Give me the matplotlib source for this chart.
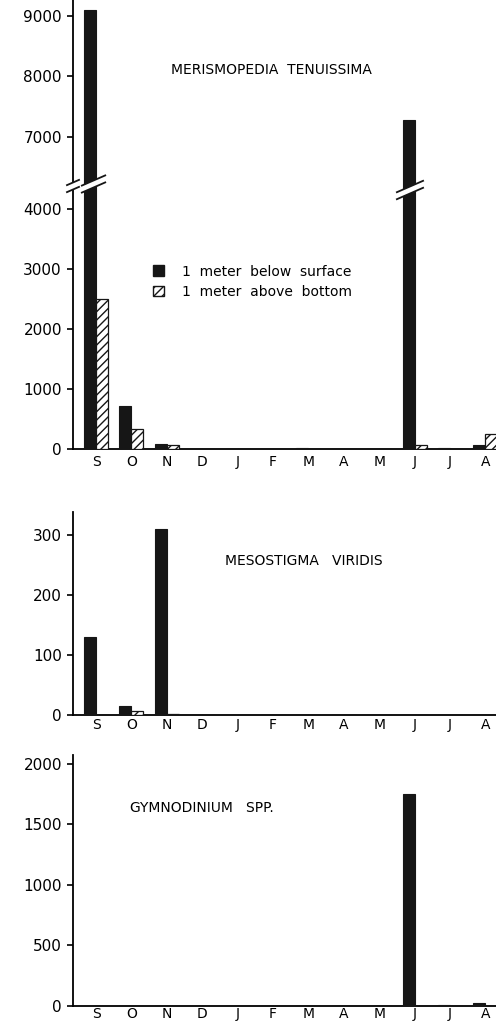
import numpy as np
import matplotlib
matplotlib.use('Agg')
import matplotlib.pyplot as plt
from matplotlib.patches import Patch, Polygon
from matplotlib.lines import Line2D
import matplotlib.transforms as mtransforms

months = ['S', 'O', 'N', 'D', 'J', 'F', 'M', 'A', 'M', 'J', 'J', 'A']

# cells per ml
meris_surface = [9100, 720, 80, 0, 8, 0, 15, 0, 0, 7280, 25, 60]
meris_bottom = [2500, 330, 60, 0, 0, 0, 0, 0, 0, 70, 0, 250]
meso_surface = [130, 15, 310, 0, 0, 0, 0, 0, 0, 0, 0, 0]
meso_bottom = [0, 6, 1, 0, 0, 0, 0, 0, 0, 0, 0, 0]
gymno_surface = [0, 0, 0, 0, 2, 0, 0, 2, 2, 1750, 12, 22]
gymno_bottom = [0, 0, 0, 0, 0, 0, 0, 0, 0, 0, 0, 0]

plt.rcParams['font.family'] = 'DejaVu Sans'
plt.rcParams['hatch.linewidth'] = 1.0

W, H = 496, 1024
fig = plt.figure(figsize=(W / 100, H / 100), dpi=100)
fig.patch.set_facecolor('white')

BLACK = '#161616'
x = np.arange(len(months))
bw = 0.34
XLIM = (-0.65, 11.30)
left = 73 / W


def fy(px):
    # pixel row from top -> figure fraction
    return 1 - px / H


def make_ax(top_px, bot_px):
    return fig.add_axes([left, fy(bot_px), 1 - left, (bot_px - top_px) / H])


def draw_bars(ax, surf, bott):
    ax.bar(x - bw / 2, surf, bw, color=BLACK, edgecolor=BLACK, linewidth=0.8, zorder=3)
    ax.bar(x + bw / 2, bott, bw, facecolor='white', edgecolor=BLACK,
           hatch='////', linewidth=0.9, zorder=3)


def style(ax, bottom=True, xpad=4):
    ax.set_xlim(*XLIM)
    for s in ['top', 'right']:
        ax.spines[s].set_visible(False)
    ax.spines['left'].set_linewidth(1.3)
    ax.spines['bottom'].set_linewidth(1.3)
    ax.tick_params(axis='y', direction='out', length=4, width=1.2, labelsize=11, pad=4)
    if bottom:
        ax.set_xticks(x)
        ax.set_xticklabels(months, fontsize=10)
        ax.tick_params(axis='x', length=0, pad=xpad)
    else:
        ax.spines['bottom'].set_visible(False)
        ax.set_xticks([])


# ---- Merismopedia (broken axis) ----
ax_up = make_ax(0, 184)
draw_bars(ax_up, meris_surface, meris_bottom)
ax_up.set_ylim(6223, 9264)
ax_up.set_yticks([7000, 8000, 9000])
style(ax_up, bottom=False)

ax_lo = make_ax(184, 449)
draw_bars(ax_lo, meris_surface, meris_bottom)
ax_lo.set_ylim(0, 4417)
ax_lo.set_yticks([0, 1000, 2000, 3000, 4000])
style(ax_lo)

# break marks: x in data units, y in figure fraction
tr = mtransforms.blended_transform_factory(ax_lo.transData, fig.transFigure)
rise = 15.4 / H   # per data unit
gap = 7.0 / H
for xc, half, ypx in [(-0.65, 0.17, 186), (-0.07, 0.33, 184), (8.87, 0.37, 190)]:
    yc = fy(ypx)
    x0, x1 = xc - half, xc + half
    y0, y1 = yc - half * rise, yc + half * rise
    band = Polygon([(x0, y0 + gap / 2), (x1, y1 + gap / 2), (x1, y1 - gap / 2), (x0, y0 - gap / 2)],
                   closed=True, facecolor='white', edgecolor='none', transform=tr,
                   clip_on=False, zorder=10)
    fig.add_artist(band)
    for sgn in (1, -1):
        fig.add_artist(Line2D([x0, x1], [y0 + sgn * gap / 2, y1 + sgn * gap / 2],
                              color=BLACK, lw=1.3, transform=tr, zorder=11))

fig.text(171 / W, fy(70), 'MERISMOPEDIA  TENUISSIMA', fontsize=10, va='center', ha='left')

handles = [Patch(facecolor=BLACK, edgecolor=BLACK),
           Patch(facecolor='white', edgecolor=BLACK, hatch='////')]
fig.legend(handles, ['1  meter  below  surface', '1  meter  above  bottom'],
           loc='upper left', bbox_to_anchor=(140 / W, fy(252)), frameon=False,
           fontsize=10, handlelength=0.8, handleheight=0.8, handletextpad=1.3,
           labelspacing=0.45)

# ---- Mesostigma ----
ax_m = make_ax(512, 715)
draw_bars(ax_m, meso_surface, meso_bottom)
ax_m.set_ylim(0, 338)
ax_m.set_yticks([0, 100, 200, 300])
style(ax_m, xpad=2)
fig.text(225 / W, fy(561), 'MESOSTIGMA   VIRIDIS', fontsize=10, va='center', ha='left')

# ---- Gymnodinium ----
ax_g = make_ax(755, 1006)
draw_bars(ax_g, gymno_surface, gymno_bottom)
ax_g.set_ylim(0, 2074)
ax_g.set_yticks([0, 500, 1000, 1500, 2000])
style(ax_g, xpad=1)
fig.text(130 / W, fy(808), 'GYMNODINIUM   SPP.', fontsize=10, va='center', ha='left')

fig.savefig('out.png', dpi=100, facecolor='white')
